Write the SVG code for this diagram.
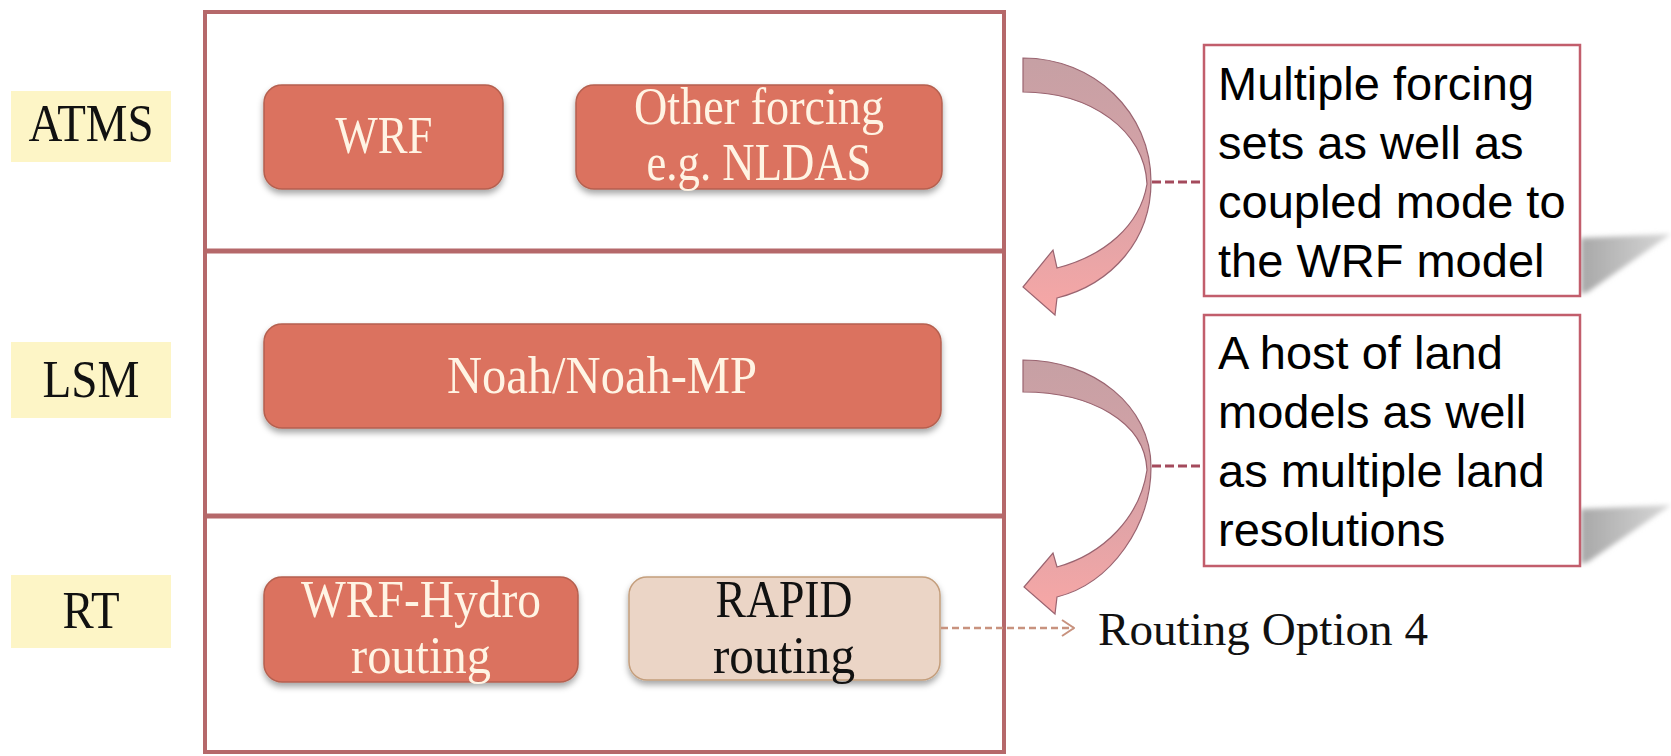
<svg xmlns="http://www.w3.org/2000/svg" width="1671" height="756" viewBox="0 0 1671 756">
<defs>
  <style>
    .serif{font-family:"Liberation Serif","Times New Roman",serif;font-size:52px;text-anchor:middle;}
    .light{fill:#fff4e4;}
    .dark{fill:#111;}
    .sans{font-family:"Liberation Sans",Arial,sans-serif;font-size:47px;fill:#000;}
    .node{fill:#db725e;stroke:#b5604f;stroke-width:1.5;filter:url(#ds);}
    .rapid{fill:#ebd5c6;stroke:#c49e7c;stroke-width:1.5;filter:url(#ds);}
    .label{fill:#fdf5c6;}
    .frame{fill:none;stroke:#b5686a;stroke-width:4;}
    .sep{stroke:#b5686a;stroke-width:5;}
    .note{fill:#fff;stroke:#c25e6c;stroke-width:2.5;}
    .dash{stroke:#a44a5c;stroke-width:3;stroke-dasharray:9 4;fill:none;}
    .arrow{fill:url(#ag);stroke:#9a6470;stroke-width:1.2;}
  </style>
  <filter id="ds" x="-10%" y="-10%" width="120%" height="130%">
    <feDropShadow dx="0" dy="4" stdDeviation="3" flood-color="#000" flood-opacity="0.35"/>
  </filter>
  <filter id="soft" x="-20%" y="-20%" width="140%" height="140%">
    <feGaussianBlur stdDeviation="2.5"/>
  </filter>
  <linearGradient id="ag" x1="0" y1="0" x2="0" y2="1">
    <stop offset="0" stop-color="#c6a0a4"/>
    <stop offset="0.5" stop-color="#d7a2a7"/>
    <stop offset="1" stop-color="#f8a7a6"/>
  </linearGradient>
  <linearGradient id="sg" x1="0" y1="0" x2="1" y2="0">
    <stop offset="0" stop-color="#a8a8a8"/>
    <stop offset="1" stop-color="#d8d8d8"/>
  </linearGradient>
  <marker id="chev" viewBox="0 0 14 18" refX="13" refY="9" markerWidth="14" markerHeight="18" markerUnits="userSpaceOnUse" orient="auto">
    <path d="M1,1 L13,9 L1,17" fill="none" stroke="#c8927e" stroke-width="2"/>
  </marker>
</defs>
<rect width="1671" height="756" fill="#fff"/>

<g id="shadows">
  <polygon points="1581,238 1671,234 1588,292 1581,294" fill="url(#sg)" filter="url(#soft)"/>
  <polygon points="1581,509 1671,505 1588,562 1581,564" fill="url(#sg)" filter="url(#soft)"/>
</g>

<g id="frame">
  <rect class="frame" x="205" y="12" width="799" height="740"/>
  <line class="sep" x1="205" y1="251" x2="1004" y2="251"/>
  <line class="sep" x1="205" y1="516" x2="1004" y2="516"/>
</g>

<g id="label-atms">
  <rect class="label" x="11" y="91" width="160" height="71"/>
  <text class="serif dark" x="91" y="141" textLength="125" lengthAdjust="spacingAndGlyphs">ATMS</text>
</g>
<g id="label-lsm">
  <rect class="label" x="11" y="342" width="160" height="76"/>
  <text class="serif dark" x="91" y="397" textLength="97" lengthAdjust="spacingAndGlyphs">LSM</text>
</g>
<g id="label-rt">
  <rect class="label" x="11" y="575" width="160" height="73"/>
  <text class="serif dark" x="91" y="628" textLength="57" lengthAdjust="spacingAndGlyphs">RT</text>
</g>

<g id="node-wrf">
  <rect class="node" x="264" y="85" width="239" height="104" rx="18"/>
  <text class="serif light" x="384" y="153" textLength="97" lengthAdjust="spacingAndGlyphs">WRF</text>
</g>
<g id="node-other">
  <rect class="node" x="576" y="85" width="366" height="104" rx="18"/>
  <text class="serif light" x="759" y="124" textLength="250" lengthAdjust="spacingAndGlyphs">Other forcing</text>
  <text class="serif light" x="759" y="180" textLength="225" lengthAdjust="spacingAndGlyphs">e.g. NLDAS</text>
</g>
<g id="node-noah">
  <rect class="node" x="264" y="324" width="677" height="104" rx="18"/>
  <text class="serif light" x="602" y="393" textLength="310" lengthAdjust="spacingAndGlyphs">Noah/Noah-MP</text>
</g>
<g id="node-wrfhydro">
  <rect class="node" x="264" y="577" width="314" height="105" rx="18"/>
  <text class="serif light" x="421" y="617" textLength="240" lengthAdjust="spacingAndGlyphs">WRF-Hydro</text>
  <text class="serif light" x="421" y="673" textLength="140" lengthAdjust="spacingAndGlyphs">routing</text>
</g>
<g id="node-rapid">
  <rect class="rapid" x="629" y="577" width="311" height="103" rx="18"/>
  <text class="serif dark" x="784" y="617" textLength="137" lengthAdjust="spacingAndGlyphs">RAPID</text>
  <text class="serif dark" x="784" y="673" textLength="142" lengthAdjust="spacingAndGlyphs">routing</text>
</g>

<g id="note-1">
  <rect class="note" x="1204" y="45" width="376" height="251"/>
  <text class="sans" x="1218" y="100">Multiple forcing</text>
  <text class="sans" x="1218" y="159">sets as well as</text>
  <text class="sans" x="1218" y="218">coupled mode to</text>
  <text class="sans" x="1218" y="277">the WRF model</text>
</g>
<g id="note-2">
  <rect class="note" x="1204" y="315" width="376" height="251"/>
  <text class="sans" x="1218" y="369">A host of land</text>
  <text class="sans" x="1218" y="428">models as well</text>
  <text class="sans" x="1218" y="487">as multiple land</text>
  <text class="sans" x="1218" y="546">resolutions</text>
</g>

<g id="label-routing">
  <text class="serif dark" x="1098" y="645" style="text-anchor:start;font-size:47px" textLength="330" lengthAdjust="spacingAndGlyphs">Routing Option 4</text>
</g>

<g id="connectors">
  <path class="arrow" d="M1023,58 C1094,58 1151,112 1151,182 C1151,240 1112,284 1057,298 L1055,315 L1023,287 L1053,250 L1057,268 C1104,256 1140,226 1147,184 C1145,131 1091,92 1023,92 Z"/>
  <path class="arrow" d="M1023,360 C1094,360 1151,406 1151,467 C1151,525 1112,583 1057,597 L1055,614 L1024,587 L1053,553 L1057,567 C1104,554 1140,517 1147,470 C1145,422 1091,392 1023,392 Z"/>
  <line class="dash" x1="1152" y1="182" x2="1204" y2="182"/>
  <line class="dash" x1="1152" y1="466" x2="1204" y2="466"/>
  <line x1="941" y1="628" x2="1074" y2="628" stroke="#c8927e" stroke-width="2.5" stroke-dasharray="7 4" marker-end="url(#chev)"/>
</g>
</svg>
